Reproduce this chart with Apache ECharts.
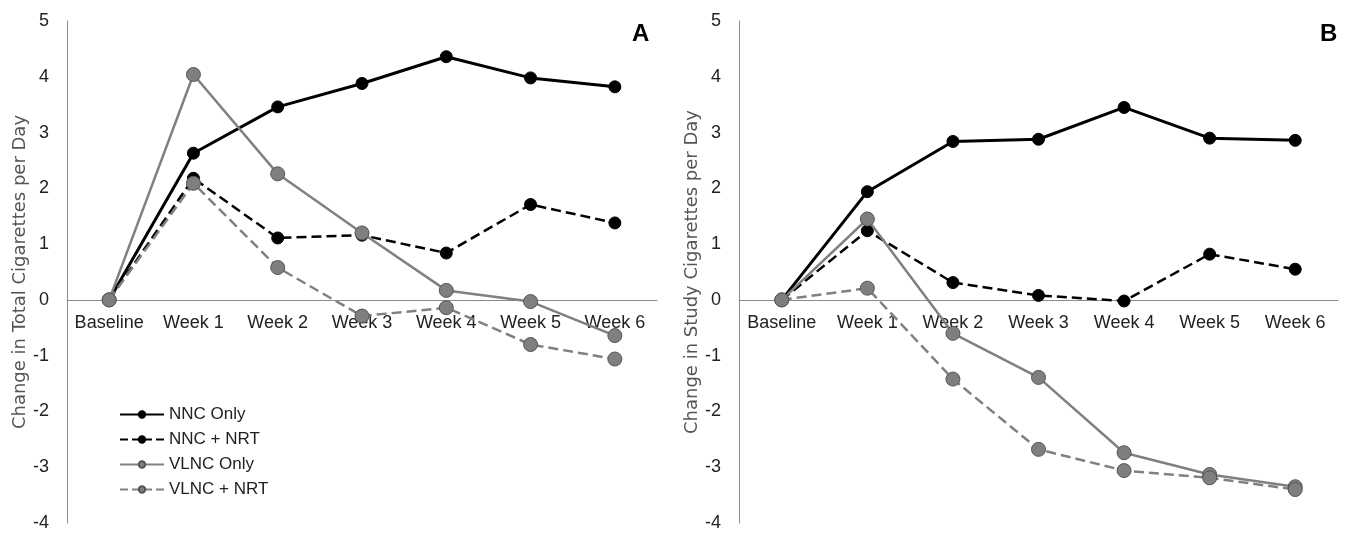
<!DOCTYPE html>
<html>
<head>
<meta charset="utf-8">
<script src="https://cdn.jsdelivr.net/npm/echarts@6/dist/echarts.min.js"></script>
<style>
html, body { margin: 0; padding: 0; background: #fff; }
#chart { width: 1347px; height: 536px; }
</style>
</head>
<body>
<div id="chart"></div>
<script>
// change in cigarettes per day, panel A (total) and panel B (study)
var categories = ['Baseline', 'Week 1', 'Week 2', 'Week 3', 'Week 4', 'Week 5', 'Week 6'];
var yTicks = [-4, -3, -2, -1, 0, 1, 2, 3, 4, 5];

var totalNncOnly  = [0, 2.63, 3.46, 3.88, 4.36, 3.98, 3.82];
var totalNncNrt   = [0, 2.18, 1.11, 1.16, 0.84, 1.71, 1.38];
var totalVlncOnly = [0, 4.04, 2.26, 1.20, 0.17, -0.03, -0.64];
var totalVlncNrt  = [0, 2.09, 0.58, -0.29, -0.14, -0.80, -1.06];

var studyNncOnly  = [0, 1.94, 2.84, 2.88, 3.45, 2.90, 2.86];
var studyNncNrt   = [0, 1.24, 0.31, 0.08, -0.02, 0.82, 0.55];
var studyVlncOnly = [0, 1.45, -0.60, -1.39, -2.74, -3.13, -3.35];
var studyVlncNrt  = [0, 0.21, -1.42, -2.68, -3.06, -3.19, -3.40];

var font = "'Liberation Sans', Arial, sans-serif";
var gridTop = 21, gridBottom = 13, chartH = 536;
var plotH = chartH - gridTop - gridBottom;
var yMin = yTicks[0], yMax = yTicks[yTicks.length - 1];
// lift the category axis up to y = 0
var zeroOffset = -plotH * (0 - yMin) / (yMax - yMin);

function mkX(idx) {
    return {
        type: 'category',
        gridIndex: idx,
        data: categories,
        boundaryGap: true,
        offset: zeroOffset,
        axisLine: { onZero: false, lineStyle: { color: '#8c8c8c', width: 1 } },
        axisTick: { show: false },
        axisLabel: { color: '#222', fontSize: 18, fontFamily: font, margin: 14, interval: 0 }
    };
}
function mkY(idx, title) {
    return {
        type: 'value',
        gridIndex: idx,
        min: yMin,
        max: yMax,
        interval: 1,
        name: title,
        nameLocation: 'middle',
        nameGap: 38,
        nameTextStyle: { color: '#555', fontSize: 18, fontFamily: "'DejaVu Sans', sans-serif" },
        splitLine: { show: false },
        axisLine: { show: true, lineStyle: { color: '#8c8c8c', width: 1 } },
        axisTick: { show: false },
        axisLabel: { color: '#222', fontSize: 18, fontFamily: font, margin: 18 }
    };
}

var styles = {
    'NNC Only':  { color: '#000', type: 'solid',  width: 3,   size: 12, fill: '#000',    border: '#000' },
    'NNC + NRT': { color: '#000', type: 'dashed', width: 2.5, size: 12, fill: '#000',    border: '#000' },
    'VLNC Only': { color: '#808080', type: 'solid',  width: 2.5, size: 14, fill: '#7f7f7f', border: '#555' },
    'VLNC + NRT':{ color: '#808080', type: 'dashed', width: 2.5, size: 14, fill: '#7f7f7f', border: '#555' }
};

function mkSeries(name, data, idx) {
    var s = styles[name];
    return {
        name: name,
        type: 'line',
        xAxisIndex: idx,
        yAxisIndex: idx,
        data: data,
        symbol: 'circle',
        symbolSize: s.size,
        lineStyle: { color: s.color, type: s.type, width: s.width },
        itemStyle: { color: s.fill, borderColor: s.border, borderWidth: 1 },
        emphasis: { disabled: true },
        z: s.fill === '#000' ? 2 : 3,
        animation: false
    };
}

var chart = echarts.init(document.getElementById('chart'));
chart.setOption({
    backgroundColor: '#fff',
    textStyle: { fontFamily: font },
    title: [
        { text: 'A', left: 627, top: 17, textStyle: { fontSize: 24, fontWeight: 'bold', color: '#000', fontFamily: font } },
        { text: 'B', left: 1315, top: 17, textStyle: { fontSize: 24, fontWeight: 'bold', color: '#000', fontFamily: font } }
    ],
    legend: {
        orient: 'vertical',
        left: 114,
        top: 401,
        itemWidth: 44,
        itemHeight: 8,
        itemGap: 8,
        data: ['NNC Only', 'NNC + NRT', 'VLNC Only', 'VLNC + NRT'],
        textStyle: { color: '#222', fontSize: 17, fontFamily: font }
    },
    grid: [
        { left: 67, width: 590, top: gridTop, bottom: gridBottom },
        { left: 739, width: 599, top: gridTop, bottom: gridBottom }
    ],
    xAxis: [mkX(0), mkX(1)],
    yAxis: [mkY(0, 'Change in Total Cigarettes per Day'), mkY(1, 'Change in Study Cigarettes per Day')],
    series: [
        mkSeries('NNC Only', totalNncOnly, 0),
        mkSeries('NNC + NRT', totalNncNrt, 0),
        mkSeries('VLNC Only', totalVlncOnly, 0),
        mkSeries('VLNC + NRT', totalVlncNrt, 0),
        mkSeries('NNC Only', studyNncOnly, 1),
        mkSeries('NNC + NRT', studyNncNrt, 1),
        mkSeries('VLNC Only', studyVlncOnly, 1),
        mkSeries('VLNC + NRT', studyVlncNrt, 1)
    ]
});
</script>
</body>
</html>
